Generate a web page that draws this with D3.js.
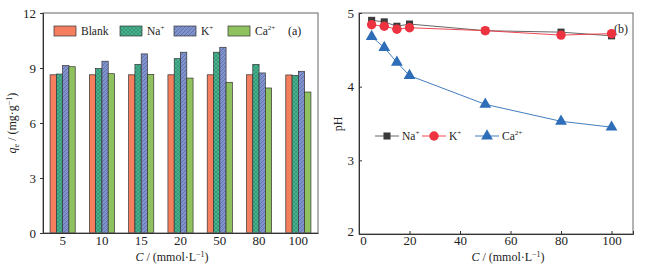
<!DOCTYPE html>
<html>
<head>
<meta charset="utf-8">
<script src="https://cdn.jsdelivr.net/npm/d3@7"></script>
<style>
  body { margin: 0; background: #fff; }
  svg { display: block; font-family: "Liberation Serif", "DejaVu Serif", serif; }
</style>
</head>
<body>
<svg id="chart" width="656" height="272"></svg>
<script>
"use strict";

// concentration groups, mmol/L
const groups = ["5", "10", "15", "20", "50", "80", "100"];
const series = ["Blank", "Na", "K", "Ca"];

// adsorption capacity qe (mg/g)
const qBlank = [8.63, 8.63, 8.63, 8.63, 8.63, 8.63, 8.62];
const qNa = [8.67, 8.97, 9.2, 9.51, 9.86, 9.2, 8.6];
const qK = [9.13, 9.37, 9.77, 9.86, 10.13, 8.73, 8.82];
const qCa = [9.07, 8.69, 8.65, 8.45, 8.22, 7.91, 7.69];

// pH vs concentration
const conc = [5, 10, 15, 20, 50, 80, 100];
const phNa = [4.9, 4.88, 4.82, 4.85, 4.76, 4.74, 4.69];
const phK = [4.84, 4.82, 4.78, 4.8, 4.76, 4.7, 4.72];
const phCa = [4.68, 4.53, 4.33, 4.15, 3.76, 3.53, 3.45];

const svg = d3.select("#chart");
const axisColor = "#333";
const tickFont = 13;

// patterns for hatched bars
const defs = svg.append("defs");
const cross = defs.append("pattern")
  .attr("id", "pat-na").attr("patternUnits", "userSpaceOnUse")
  .attr("width", 4).attr("height", 4);
cross.append("rect").attr("width", 4).attr("height", 4).attr("fill", "#45b490");
cross.append("path").attr("d", "M0,0L4,4M4,0L0,4")
  .attr("stroke", "#2a6f58").attr("stroke-width", 0.45);

const diag = defs.append("pattern")
  .attr("id", "pat-k").attr("patternUnits", "userSpaceOnUse")
  .attr("width", 4).attr("height", 4);
diag.append("rect").attr("width", 4).attr("height", 4).attr("fill", "#8193cd");
diag.append("path").attr("d", "M-1,1L1,-1M0,4L4,0M3,5L5,3")
  .attr("stroke", "#3a4a84").attr("stroke-width", 0.45);

const fills = {
  Blank: "#f47e5e",
  Na: "url(#pat-na)",
  K: "url(#pat-k)",
  Ca: "#8fc25f",
};
const seriesVals = { Blank: qBlank, Na: qNa, K: qK, Ca: qCa };
const legendNames = { Blank: "Blank", Na: "Na", K: "K", Ca: "Ca" };
const legendSup = { Blank: "", Na: "+", K: "+", Ca: "2+" };

// ---------- panel (a) ----------
const a = { left: 43, right: 318, top: 13, bottom: 233 };

const x0 = d3.scaleBand().domain(groups).range([a.left, a.right]).paddingInner(0.36).paddingOuter(0.18);
const x1 = d3.scaleBand().domain(series).range([0, x0.bandwidth()]);
const yA = d3.scaleLinear().domain([0, 12]).range([a.bottom, a.top]);

const gA = svg.append("g");

groups.forEach((g, i) => {
  gA.append("g")
    .selectAll("rect")
    .data(series)
    .enter()
    .append("rect")
    .attr("x", (s) => x0(g) + x1(s))
    .attr("y", (s) => yA(seriesVals[s][i]))
    .attr("width", x1.bandwidth())
    .attr("height", (s) => yA(0) - yA(seriesVals[s][i]))
    .attr("fill", (s) => fills[s])
    .attr("stroke", "#333")
    .attr("stroke-width", 0.7);
});

// frame
gA.append("rect")
  .attr("x", a.left).attr("y", a.top)
  .attr("width", a.right - a.left).attr("height", a.bottom - a.top)
  .attr("fill", "none").attr("stroke", "#666").attr("stroke-width", 1);

const yAxisA = gA.append("g")
  .attr("transform", `translate(${a.left},0)`)
  .call(d3.axisLeft(yA).tickValues([0, 3, 6, 9, 12]).tickSize(3).tickPadding(4));
const xAxisA = gA.append("g")
  .attr("transform", `translate(0,${a.bottom})`)
  .call(d3.axisBottom(x0).tickSize(0).tickPadding(3));

[yAxisA, xAxisA].forEach((ax) => {
  ax.select(".domain").attr("stroke", axisColor);
  ax.selectAll(".tick line").attr("stroke", axisColor);
  ax.selectAll("text").attr("font-size", tickFont).attr("fill", "#222")
    .attr("font-family", "Liberation Serif");
});

// y title
const yTitleA = gA.append("text")
  .attr("transform", "translate(16,123) rotate(-90)")
  .attr("text-anchor", "middle")
  .attr("font-size", 12).attr("fill", "#222");
yTitleA.append("tspan").attr("font-style", "italic").text("q");
yTitleA.append("tspan").attr("font-size", 8).attr("dy", 3).text("e");
yTitleA.append("tspan").attr("dy", -3).text(" / (mg·g");
yTitleA.append("tspan").attr("font-size", 8).attr("dy", -4).text("−1");
yTitleA.append("tspan").attr("dy", 4).text(")");

function xTitle(cx) {
  const t = svg.append("text")
    .attr("x", cx).attr("y", 261)
    .attr("text-anchor", "middle")
    .attr("font-size", 12).attr("fill", "#222");
  t.append("tspan").attr("font-style", "italic").text("C");
  t.append("tspan").text(" / (mmol·L");
  t.append("tspan").attr("font-size", 8).attr("dy", -4).text("−1");
  t.append("tspan").attr("dy", 4).text(")");
}
xTitle(172);

// legend (a)
const legA = gA.append("g");
const legX = [54, 120, 174, 228];
series.forEach((s, i) => {
  legA.append("rect")
    .attr("x", legX[i]).attr("y", 26)
    .attr("width", 22).attr("height", 10)
    .attr("fill", fills[s]).attr("stroke", "#333").attr("stroke-width", 0.7);
  const t = legA.append("text")
    .attr("x", legX[i] + 27).attr("y", 35)
    .attr("font-size", 11.5).attr("fill", "#222")
    .text(legendNames[s]);
  if (legendSup[s]) {
    t.append("tspan").attr("font-size", 7).attr("dy", -5).text(legendSup[s]);
  }
});

gA.append("text")
  .attr("x", 288).attr("y", 35)
  .attr("font-size", 12).attr("fill", "#222")
  .text("(a)");

// ---------- panel (b) ----------
const b = { left: 359, right: 633, top: 13, bottom: 234 };
const xB = d3.scaleLinear().domain([0, 108.5]).range([b.left, b.right]);
const yB = d3.scaleLinear().domain([2, 5]).range([b.bottom, b.top]);

const gB = svg.append("g");

gB.append("rect")
  .attr("x", b.left).attr("y", b.top)
  .attr("width", b.right - b.left).attr("height", b.bottom - b.top)
  .attr("fill", "none").attr("stroke", "#666").attr("stroke-width", 1);

const yAxisB = gB.append("g")
  .attr("transform", `translate(${b.left},0)`)
  .call(d3.axisLeft(yB).tickValues([2, 3, 4, 5]).tickFormat(d3.format("d")).tickSize(-3).tickPadding(5));
const xAxisB = gB.append("g")
  .attr("transform", `translate(0,${b.bottom})`)
  .call(d3.axisBottom(xB).tickValues([0, 20, 40, 60, 80, 100]).tickSize(-3).tickPadding(2));

[yAxisB, xAxisB].forEach((ax) => {
  ax.select(".domain").attr("stroke", axisColor);
  ax.selectAll(".tick line").attr("stroke", axisColor);
  ax.selectAll("text").attr("font-size", tickFont).attr("fill", "#222")
    .attr("font-family", "Liberation Serif");
});
yAxisB.selectAll(".tick text").filter((d) => d === 2).attr("dy", "0.1em");
xAxisB.selectAll(".tick text").filter((d) => d === 0).attr("dx", "0.3em");

gB.append("text")
  .attr("transform", "translate(342,124) rotate(-90)")
  .attr("text-anchor", "middle")
  .attr("font-size", 12).attr("fill", "#222")
  .text("pH");

xTitle(508);

gB.append("text")
  .attr("x", 614).attr("y", 33)
  .attr("font-size", 12).attr("fill", "#222")
  .text("(b)");

const lines = [
  { vals: phNa, color: "#3a3a3a", line: "#555", shape: d3.symbolSquare, size: 50, name: "Na", sup: "+" },
  { vals: phK, color: "#ee3340", line: "#ee3340", shape: d3.symbolCircle, size: 70, name: "K", sup: "+" },
  { vals: phCa, color: "#2e6db7", line: "#2e6db7", shape: d3.symbolTriangle, size: 60, name: "Ca", sup: "2+" },
];

const lineGen = d3.line().x((d) => xB(d[0])).y((d) => yB(d[1]));

lines.forEach((l) => {
  const pts = conc.map((c, i) => [c, l.vals[i]]);
  gB.append("path")
    .attr("d", lineGen(pts))
    .attr("fill", "none")
    .attr("stroke", l.line)
    .attr("stroke-width", 0.9);
  gB.append("g")
    .selectAll("path")
    .data(pts)
    .enter()
    .append("path")
    .attr("d", d3.symbol().type(l.shape).size(l.size))
    .attr("transform", (d) => `translate(${xB(d[0])},${yB(d[1])})`)
    .attr("fill", l.color);
});

// legend (b)
const legB = gB.append("g");
const legBX = [375, 422, 475];
lines.forEach((l, i) => {
  const x = legBX[i];
  legB.append("line")
    .attr("x1", x).attr("x2", x + 24)
    .attr("y1", 136).attr("y2", 136)
    .attr("stroke", l.line).attr("stroke-width", 0.9);
  legB.append("path")
    .attr("d", d3.symbol().type(l.shape).size(l.size))
    .attr("transform", `translate(${x + 12},136)`)
    .attr("fill", l.color);
  const t = legB.append("text")
    .attr("x", x + 27).attr("y", 140)
    .attr("font-size", 11.5).attr("fill", "#222")
    .text(l.name);
  t.append("tspan").attr("font-size", 7).attr("dy", -5).text(l.sup);
});
</script>
</body>
</html>
